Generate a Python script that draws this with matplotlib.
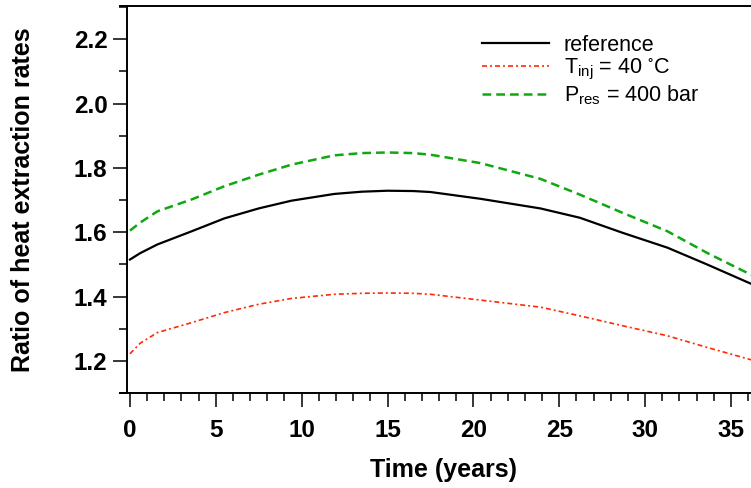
import matplotlib
matplotlib.use('Agg')
import matplotlib.pyplot as plt
from matplotlib.ticker import MultipleLocator

plt.rcParams['font.family'] = ['Liberation Sans', 'DejaVu Sans']
plt.rcParams['mathtext.fontset'] = 'custom'
plt.rcParams['mathtext.rm'] = 'Liberation Sans'
plt.rcParams['mathtext.default'] = 'regular'

# values
time = [0, 0.6, 1.6, 3.6, 5.5, 7.5, 9.4, 11.9, 13.5, 15.0, 16.5, 17.5, 20.4, 23.9, 26.2, 28.7, 31.3, 33.6, 36.2]
ratio_ref = [1.515, 1.535, 1.562, 1.603, 1.643, 1.674, 1.698, 1.719, 1.726, 1.729, 1.728, 1.725, 1.704,
             1.674, 1.645, 1.598, 1.552, 1.500, 1.439]
ratio_tinj = [1.222, 1.255, 1.288, 1.319, 1.350, 1.376, 1.394, 1.407, 1.410, 1.411, 1.410, 1.407, 1.389,
              1.367, 1.340, 1.309, 1.278, 1.242, 1.203]
ratio_pres = [1.605, 1.630, 1.665, 1.702, 1.743, 1.779, 1.810, 1.839, 1.846, 1.848, 1.846, 1.841, 1.815,
              1.766, 1.717, 1.660, 1.603, 1.536, 1.467]
labels = ['reference', r'T$_{inj}$ = 40 $^{\circ}$C', r'P$_{res}$ = 400 bar']

fig = plt.figure(figsize=(7.51, 4.88), dpi=100)
ax = fig.add_axes([120/751, 1 - 393/488, 631/751, (393 - 5.5)/488])

ax.plot(time, ratio_ref, color='black', lw=1.6, label=labels[0])
ax.plot(time, ratio_tinj, color='#ff2a00', lw=1.2, dashes=(3, 1.8, 1.2, 1.8), label=labels[1])
ax.plot(time, ratio_pres, color='#10a810', lw=1.8, dashes=(3.5, 2), label=labels[2])

ax.set_xlim(-0.58, 36.17)
ax.set_ylim(1.1, 2.305)
ax.spines['right'].set_visible(False)
ax.spines['left'].set_position(('data', -0.17))
for s in ['left', 'bottom', 'top']:
    ax.spines[s].set_linewidth(1.4)

ax.xaxis.set_major_locator(MultipleLocator(5))
ax.xaxis.set_minor_locator(MultipleLocator(1))
ax.yaxis.set_major_locator(MultipleLocator(0.2))
ax.yaxis.set_minor_locator(MultipleLocator(0.1))
ax.yaxis.set_major_formatter(matplotlib.ticker.FormatStrFormatter('%.1f'))
ax.tick_params(which='major', length=10, width=1.1, direction='out')
ax.tick_params(which='minor', length=5.8, width=1.1, direction='out')
ax.tick_params(axis='x', which='major', pad=9)
ax.tick_params(axis='y', which='major', pad=4)
ax.tick_params(top=False, right=False, which='both')
for lab in ax.get_xticklabels() + ax.get_yticklabels():
    lab.set_fontsize(17.5)
    lab.set_fontweight('bold')

ax.set_xlabel('Time (years)', fontsize=18, fontweight='bold', va='center')
ax.set_ylabel('Ratio of heat extraction rates', fontsize=18, fontweight='bold', va='center')
ax.xaxis.set_label_coords(0.512, -0.2)
ax.yaxis.set_label_coords(-0.153, 0.5)

ax.legend(loc='upper left', bbox_to_anchor=(482/751, 1 - 35/488), bbox_transform=fig.transFigure,
          frameon=False, fontsize=15.5, handlelength=3.1, handletextpad=0.7,
          labelspacing=0.05, borderpad=0, borderaxespad=0)

fig.savefig('out.png', dpi=100)
